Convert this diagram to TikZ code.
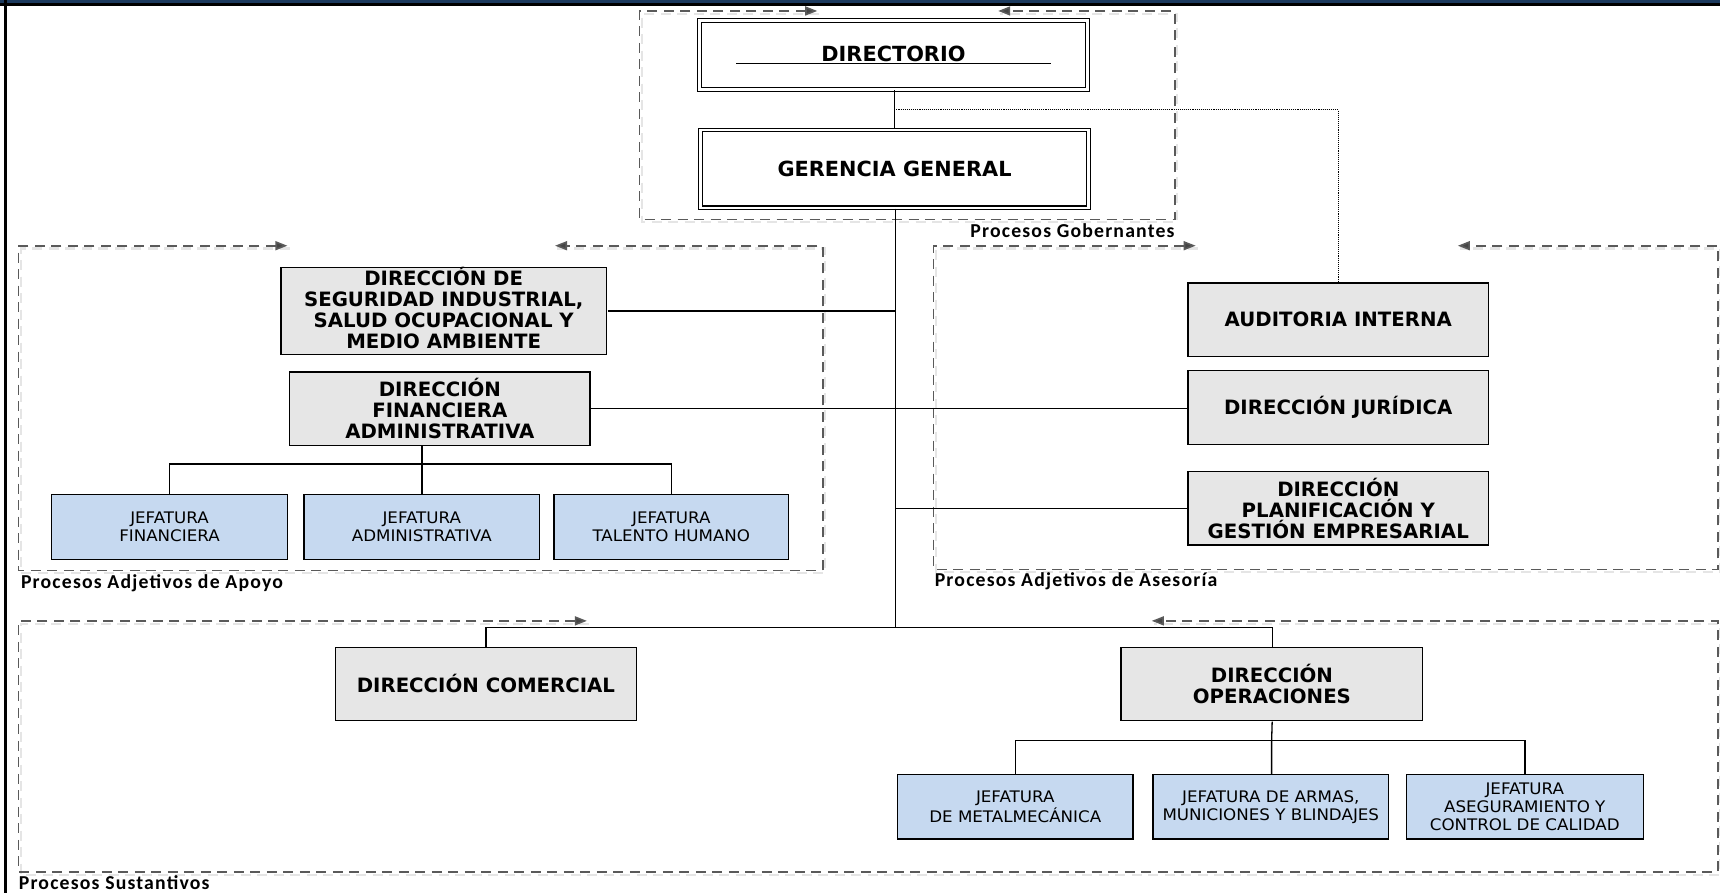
\documentclass[tikz,border=0pt]{standalone}
\usepackage{fontspec}
\setmainfont{DejaVu Sans}
\newfontfamily\boxfont{DejaVu Sans}
\newfontfamily\jeffont{DejaVu Sans}[FakeStretch=1.05]
\newfontfamily\lblfont{Carlito}[LetterSpace=6]
\usetikzlibrary{arrows.meta}
\definecolor{navy}{HTML}{1C3A5E}
\definecolor{grayfill}{HTML}{E6E6E6}
\definecolor{bluefill}{HTML}{C6D9F0}
\definecolor{dashcol}{HTML}{5A5A5A}
\definecolor{tipcol}{HTML}{454545}
\tikzset{
  headbox/.style={draw, double, double distance=2.6pt, line width=1.1pt, fill=white, align=center,
    font=\boxfont\bfseries\fontsize{19}{21}\selectfont, inner sep=0pt},
  graybox/.style={draw, line width=1.4pt, fill=grayfill, align=center,
    font=\boxfont\bfseries\fontsize{18}{19}\selectfont, inner sep=0pt},
  bluebox/.style={draw, line width=1.4pt, fill=bluefill, align=center,
    font=\jeffont\fontsize{14.5}{16.3}\selectfont, inner sep=0pt},
  conn/.style={line width=1.3pt, draw=black},
  regionline/.style={dashed, dash pattern=on 10pt off 6.5pt, line width=1.6pt, draw=dashcol,
    {Triangle[length=12pt,width=9pt,fill=tipcol]}-{Triangle[length=12pt,width=9pt,fill=tipcol]}},
  regionshadow/.style={dashed, dash pattern=on 10pt off 6.5pt, line width=2.2pt, draw=black!10},
  regionlabel/.style={font=\lblfont\bfseries\fontsize{18}{20}\selectfont, inner sep=0pt}
}
\begin{document}
\begin{tikzpicture}[x=1pt,y=-1pt,scale=1.09694,transform shape]
\useasboundingbox (0,0) rectangle (1568,814.1);
\fill[white] (0,0) rectangle (1568,814.1);
% frame
\fill[navy] (0,0) rectangle (1568,3.2);
\fill[black] (0,3.0) rectangle (1568,5.6);
\fill[black] (3.3,0) rectangle (6.1,814.1);

% region boxes (shadow + dashed line with arrow tips)
\foreach \a/\b/\c/\d/\e/\f in {745/583/10/200/1071/910, 262/17/224/520/750/506, 1090/851/224/519/1566/1329, 535/17/566/795/1566/1050}{
  \draw[regionshadow] ([shift={(2,2.5)}]\a,\c) -- ([shift={(2,2.5)}]\b,\c) -- ([shift={(2,2.5)}]\b,\d) -- ([shift={(2,2.5)}]\e,\d) -- ([shift={(2,2.5)}]\e,\c) -- ([shift={(2,2.5)}]\f,\c);
  \draw[regionline] (\a,\c) -- (\b,\c) -- (\b,\d) -- (\e,\d) -- (\e,\c) -- (\f,\c);
}
\node[regionlabel, anchor=north east] (lgob) at (1071,203.5) {Procesos Gobernantes};
\node[regionlabel, anchor=north west] (lapo) at (19,523.5) {Procesos Adjetivos de Apoyo};
\node[regionlabel, anchor=north west] (lase) at (852,521.5) {Procesos Adjetivos de Asesoría};
\node[regionlabel, anchor=north west] (lsus) at (17,798) {Procesos Sustantivos};

% top nodes
\node[headbox, minimum width=354, minimum height=63] (dir) at (814.5,50) {\underline{\makebox[287pt]{DIRECTORIO}}};
\node[headbox, minimum width=354, minimum height=71] (gg) at (815.5,154) {GERENCIA GENERAL};

% support
\node[graybox, minimum width=297, minimum height=75] (seg) at (404.5,283.5) {\raisebox{2.5pt}{\begin{tabular}{@{}c@{}}DIRECCIÓN DE\\SEGURIDAD INDUSTRIAL,\\SALUD OCUPACIONAL Y\\MEDIO AMBIENTE\end{tabular}}};
\node[graybox, minimum width=274, minimum height=67] (fin) at (401,372.5) {DIRECCIÓN\\FINANCIERA\\ADMINISTRATIVA};
\node[bluebox, minimum width=215, minimum height=59] (jf) at (154.5,480.5) {JEFATURA\\FINANCIERA};
\node[bluebox, minimum width=215, minimum height=59] (ja) at (384.5,480.5) {JEFATURA\\ADMINISTRATIVA};
\node[bluebox, minimum width=214, minimum height=59] (jt) at (612,480.5) {JEFATURA\\TALENTO HUMANO};

% advisory
\node[graybox, minimum width=274, minimum height=67] (aud) at (1220,291.5) {AUDITORIA INTERNA};
\node[graybox, minimum width=274, minimum height=67] (jur) at (1220,371.5) {DIRECCIÓN JURÍDICA};
\node[graybox, minimum width=274, minimum height=67] (plan) at (1220,463.5) {DIRECCIÓN\\PLANIFICACIÓN Y\\GESTIÓN EMPRESARIAL};

% substantive
\node[graybox, minimum width=274, minimum height=67] (com) at (443,623.5) {DIRECCIÓN COMERCIAL};
\node[graybox, minimum width=275, minimum height=67] (ops) at (1159.5,623.5) {DIRECCIÓN\\OPERACIONES};
\node[bluebox, minimum width=215, minimum height=59] (jm) at (925.5,735.5) {JEFATURA\\DE METALMECÁNICA};
\node[bluebox, minimum width=215, minimum height=59] (jar) at (1158.5,735.5) {JEFATURA DE ARMAS,\\MUNICIONES Y BLINDAJES};
\node[bluebox, minimum width=216, minimum height=59] (jas) at (1390,735.5) {JEFATURA\\ASEGURAMIENTO Y\\CONTROL DE CALIDAD};

% connectors
\coordinate (dotstart) at (815,100);
\coordinate (trunkend) at (816,572);
\draw[conn] (dir.south -| dotstart) -- (gg.north -| dotstart);
\draw[line width=1.1pt, densely dotted] (dotstart) -| (aud.north);
\draw[conn] (gg.south -| trunkend) -- (trunkend);
\draw[conn] (seg.east) -- (seg.east -| trunkend);
\draw[conn] (fin.east) -- (fin.east -| jur.west);
\draw[conn] (plan.west) -- (plan.west -| trunkend);
\draw[conn] (com.north) |- (trunkend) -| (ops.north);
\coordinate (fbus) at (384.5,423);
\draw[conn] (ja.north |- fin.south) -- (ja.north);
\draw[conn] (jf.north) |- (fbus) -| (jt.north);
\coordinate (obus) at (1159,675);
\draw[conn] (ops.south) -- (obus) -- (jar.north -| obus);
\draw[conn] (jm.north) |- (obus) -| (jas.north);
\end{tikzpicture}
\end{document}
